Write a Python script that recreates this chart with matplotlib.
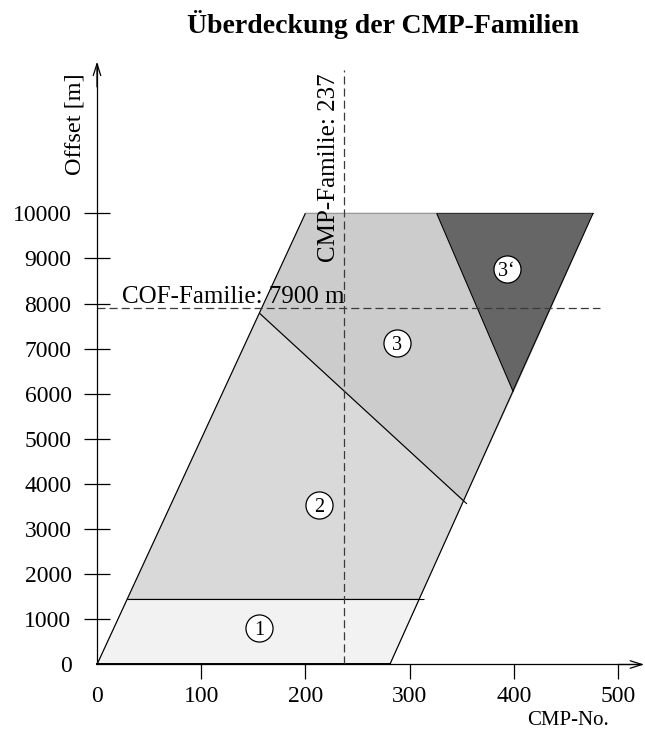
import matplotlib
matplotlib.use("Agg")
import matplotlib.pyplot as plt
from matplotlib.patches import Polygon

plt.rcParams['font.family'] = ['Liberation Serif', 'DejaVu Serif']
plt.rcParams['lines.scale_dashes'] = False

# Axis ticks
x_ticks = [0, 100, 200, 300, 400, 500]
y_ticks = [0, 1000, 2000, 3000, 4000, 5000, 6000, 7000, 8000, 9000, 10000]

# Coverage zones in the CMP / offset plane
zone1_cmp = [0, 281, 309, 29]
zone1_off = [0, 0, 1450, 1450]
zone2_cmp = [29, 309, 351.7, 156]
zone2_off = [1450, 1450, 3629, 7784]
zone3_cmp = [156, 351.7, 399.5, 326, 200]
zone3_off = [7784, 3629, 6046, 10000, 10000]
zone3b_cmp = [326, 476, 399.5]
zone3b_off = [10000, 10000, 6046]
zone_colors = ['#f2f2f2', '#d9d9d9', '#cccccc', '#666666']

# Boundary lines
left_edge_cmp = [0, 200]
left_edge_off = [0, 10000]
right_edge_cmp = [281, 476]
right_edge_off = [0, 10000]
base_cmp = [0, 281]
base_off = [0, 0]
split12_cmp = [29, 314]
split12_off = [1450, 1450]
split23_cmp = [156, 355]
split23_off = [7784, 3560]
top_cmp = [200, 476]
top_off = [10000, 10000]

# Selected families
cmp_family = 237
cmp_line_top = 13176
cof_family = 7900
cof_line_end = 483

# Zone markers
zone_names = ['1', '2', '3', '3\u2018']
zone_mark_cmp = [155.8, 213, 288, 393]
zone_mark_off = [802, 3535, 7119, 8759]

W, H = 645, 729
fig = plt.figure(figsize=(W / 100, H / 100), dpi=100)
ax = fig.add_axes([0, 0, 1, 1])
ax.set_xlim(-93.09, 525.9)
ax.set_ylim(-1429.5, 14727)
ax.patch.set_visible(False)

# Filled zones
for cx, cy, col in [(zone1_cmp, zone1_off, zone_colors[0]),
                    (zone2_cmp, zone2_off, zone_colors[1]),
                    (zone3_cmp, zone3_off, zone_colors[2]),
                    (zone3b_cmp, zone3b_off, zone_colors[3])]:
    ax.add_patch(Polygon(list(zip(cx, cy)), closed=True, facecolor=col,
                         edgecolor='#a8a8a8', lw=0.8, zorder=1))

# Outline and zone boundaries
line_kw = dict(color='black', lw=0.8, zorder=3, solid_capstyle='butt')
ax.plot(left_edge_cmp, left_edge_off, **line_kw)
ax.plot(right_edge_cmp, right_edge_off, **line_kw)
ax.plot(split12_cmp, split12_off, **line_kw)
ax.plot(split23_cmp, split23_off, **line_kw)
ax.plot([zone3b_cmp[0], zone3b_cmp[2]], [zone3b_off[0], zone3b_off[2]], **line_kw)
ax.plot(top_cmp, top_off, color='#9a9a9a', lw=0.8, zorder=2)
ax.plot([zone3b_cmp[0], zone3b_cmp[1]], [zone3b_off[0], zone3b_off[1]],
        color='#333333', lw=0.8, zorder=2)
ax.plot(base_cmp, base_off, color='black', lw=1.4, zorder=4)

# Family lines
dash_kw = dict(color='#3a3a3a', lw=0.9, dashes=(5.8, 2.9), zorder=4)
ax.plot([cmp_family, cmp_family], [0, cmp_line_top], **dash_kw)
ax.plot([0, cof_line_end], [cof_family, cof_family], **dash_kw)

ax.text(23.7, 8005, 'COF-Familie: 7900 m', fontsize=18, ha='left',
        va='baseline', zorder=6)
ax.text(228.4, 8921, 'CMP-Familie: 237', fontsize=18, rotation=90,
        rotation_mode='anchor', ha='left', va='baseline', zorder=6)

# Zone markers
ax.scatter(zone_mark_cmp, zone_mark_off, s=380, facecolor='white',
           edgecolor='black', linewidths=0.9, zorder=7)
for name, cx, cy in zip(zone_names, zone_mark_cmp, zone_mark_off):
    ax.annotate(name, (cx, cy), xytext=(0, -4.9), textcoords='offset points',
                ha='center', va='baseline', fontsize=14.5, zorder=8)

# Axes through the origin
for side in ['top', 'right']:
    ax.spines[side].set_visible(False)
ax.spines['left'].set_position(('data', 0))
ax.spines['bottom'].set_position(('data', 0))
ax.spines['left'].set_bounds(0, 13300)
ax.spines['bottom'].set_bounds(0, 522)
ax.spines['left'].set_linewidth(0.9)
ax.spines['bottom'].set_linewidth(0.9)
ax.spines['left'].set_zorder(5)
ax.spines['bottom'].set_zorder(5)

arrow_kw = dict(arrowstyle='->,head_length=0.85,head_width=0.27', lw=0.9,
                color='black', shrinkA=0, shrinkB=0, mutation_scale=10)
ax.annotate('', xy=(0, 13360), xytext=(0, 12800), arrowprops=arrow_kw,
            zorder=5)
ax.annotate('', xy=(525, 0), xytext=(500, 0), arrowprops=arrow_kw, zorder=5)

ax.set_xticks(x_ticks)
ax.set_yticks(y_ticks)
ax.set_xticklabels([str(v) for v in x_ticks])
ax.set_yticklabels([str(v) for v in y_ticks])
ax.tick_params(axis='y', direction='inout', length=18.7, width=0.9, pad=9,
               labelsize=17)
ax.tick_params(axis='x', direction='out', length=10.8, width=0.9, pad=5,
               labelsize=17)
ax.xaxis.get_major_ticks()[0].tick1line.set_visible(False)
ax.yaxis.get_major_ticks()[0].tick1line.set_visible(False)

ax.text(-15.4, 10849, 'Offset [m]', fontsize=17.5, rotation=90,
        rotation_mode='anchor', ha='left', va='baseline')
ax.text(412.7, -1341, 'CMP-No.', fontsize=15, ha='left', va='baseline')

fig.text(382.6 / W, 1 - 33 / H, '\u00dcberdeckung der CMP-Familien',
         ha='center', va='baseline', fontsize=20, fontweight='bold')

fig.savefig('out.png', dpi=100)
